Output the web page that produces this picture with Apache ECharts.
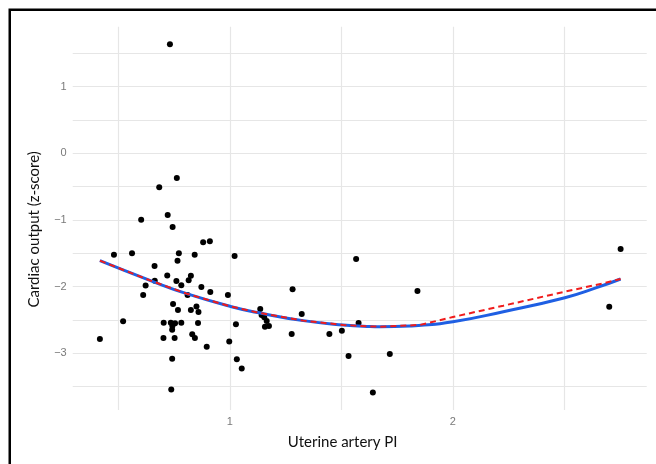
<!DOCTYPE html>
<html>
<head>
<meta charset="utf-8">
<script src="https://cdn.jsdelivr.net/npm/echarts@6/dist/echarts.min.js"></script>
<style>
  html, body { margin: 0; padding: 0; background: #fff; }
  #chart { width: 656px; height: 464px; }
</style>
</head>
<body>
<div id="chart"></div>
<script>
// uterine artery PI vs cardiac output z-score
var uaPI = [
  0.731, 0.762, 0.683, 0.602, 0.721, 0.743, 0.880, 0.910, 0.480, 0.561,
  0.771, 0.842, 0.765, 0.662, 1.021, 0.719, 0.825, 0.815, 0.760, 0.782,
  0.663, 0.622, 0.872, 0.912, 0.611, 0.810, 0.991, 0.745, 0.767, 0.825,
  0.850, 0.859, 0.521, 0.703, 0.735, 0.742, 0.741, 0.754, 0.782, 0.857,
  1.027, 0.417, 0.702, 0.752, 0.831, 0.843, 0.896, 0.997, 0.741, 1.031,
  1.053, 0.737, 1.136, 1.142, 1.154, 1.165, 1.157, 1.175, 1.281, 1.322,
  1.277, 1.446, 1.502, 1.566, 1.577, 1.532, 1.717, 1.641, 1.841, 2.701,
  2.752
]
var coZ = [
  1.634, -0.370, -0.510, -0.995, -0.925, -1.105, -1.334, -1.319, -1.520, -1.497,
  -1.499, -1.520, -1.610, -1.690, -1.540, -1.832, -1.835, -1.905, -1.915, -1.978,
  -1.912, -1.982, -2.003, -2.078, -2.124, -2.126, -2.124, -2.260, -2.350, -2.350,
  -2.297, -2.378, -2.519, -2.542, -2.542, -2.590, -2.645, -2.549, -2.542, -2.545,
  -2.562, -2.784, -2.768, -2.768, -2.712, -2.768, -2.900, -2.823, -3.079, -3.089,
  -3.225, -3.541, -2.334, -2.425, -2.460, -2.514, -2.600, -2.590, -2.040, -2.409,
  -2.709, -2.709, -2.660, -1.585, -2.545, -3.040, -3.010, -3.585, -2.065, -2.300,
  -1.435
]

// quadratic fit (blue) and the dashed red fit
var fitX = [0.417, 0.641, 0.806, 1.007, 1.135, 1.329, 1.508, 1.628, 1.673, 1.807, 2.0, 2.226, 2.502, 2.644, 2.752]
var fitY = [-1.610, -1.905, -2.105, -2.300, -2.395, -2.509, -2.574, -2.597, -2.600, -2.589, -2.525, -2.375, -2.165, -2.015, -1.885]

var altX = [0.417, 0.641, 0.806, 1.007, 1.135, 1.329, 1.508, 1.628, 1.673, 1.852, 2.0, 2.226, 2.502, 2.674, 2.752]
var altY = [-1.610, -1.905, -2.105, -2.300, -2.395, -2.509, -2.574, -2.597, -2.600, -2.574, -2.455, -2.285, -2.075, -1.950, -1.885]

var xTicks = [1, 2]
var yTicks = [-3, -2, -1, 0, 1]

function zip(a, b) {
  return a.map(function (v, i) { return [v, b[i]] })
}

var chart = echarts.init(document.getElementById('chart'))

var gridLine = { show: true, showMinLine: false, showMaxLine: false, lineStyle: { color: '#e6e6e6', width: 1.2 } }
var tickText = { color: '#7a7a7a', fontSize: 11, fontFamily: 'Liberation Sans, Arial, sans-serif' }

chart.setOption({
  animation: false,
  backgroundColor: '#fff',
  grid: { left: 72.7, right: 9.3, top: 26.7, bottom: 54 },
  graphic: [{
    type: 'rect',
    silent: true,
    shape: { x: 9.75, y: 9.75, width: 700, height: 500 },
    style: { fill: 'none', stroke: '#000', lineWidth: 2.5 }
  }],
  xAxis: {
    type: 'value',
    min: 0.295,
    max: 2.869,
    minInterval: 0.5,
    maxInterval: 0.5,
    name: 'Uterine artery PI',
    nameLocation: 'middle',
    nameGap: 25,
    nameTextStyle: { color: '#111', fontSize: 15, fontFamily: 'Lato', padding: [0, 34, 0, 0] },
    axisLine: { show: false },
    axisTick: { show: false },
    splitLine: gridLine,
    axisLabel: Object.assign({
      margin: 6,
      formatter: function (v) { return xTicks.indexOf(v) >= 0 ? String(v) : '' }
    }, tickText)
  },
  yAxis: {
    type: 'value',
    min: -3.849,
    max: 1.898,
    minInterval: 0.5,
    maxInterval: 0.5,
    name: 'Cardiac output (z-score)',
    nameLocation: 'middle',
    nameGap: 31,
    nameTextStyle: { color: '#111', fontSize: 15, fontFamily: 'Lato', padding: [0, 22, 0, 0] },
    axisLine: { show: false },
    axisTick: { show: false },
    splitLine: gridLine,
    axisLabel: Object.assign({
      margin: 6,
      formatter: function (v) {
        if (yTicks.indexOf(v) < 0) return ''
        return v < 0 ? '\u2212' + Math.abs(v) : String(v)
      }
    }, tickText)
  },
  series: [
    {
      type: 'scatter',
      data: zip(uaPI, coZ),
      symbolSize: 6,
      itemStyle: { color: '#000', opacity: 1 }
    },
    {
      type: 'line',
      data: zip(fitX, fitY),
      smooth: 0.5,
      showSymbol: false,
      lineStyle: { color: '#1f5fe3', width: 3 }
    },
    {
      type: 'line',
      data: zip(altX, altY),
      showSymbol: false,
      lineStyle: { color: '#f01c1c', width: 2, type: [6, 4] }
    }
  ]
})
</script>
</body>
</html>
